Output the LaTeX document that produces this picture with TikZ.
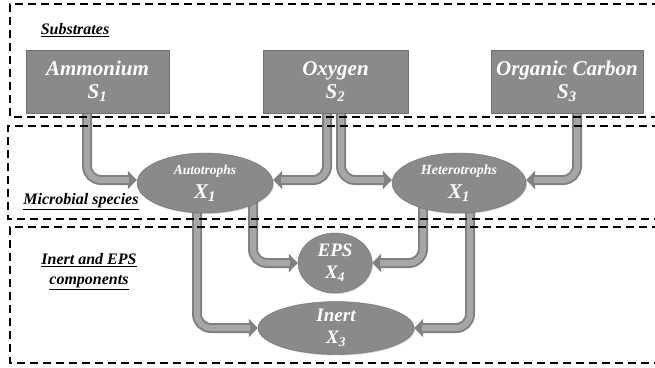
\documentclass[tikz,border=0pt]{standalone}
\usepackage{fontspec}
\setmainfont{Liberation Serif}
\usetikzlibrary{arrows.meta,shapes.geometric,shadows,backgrounds}
\definecolor{boxgray}{HTML}{8A8A8A}
\definecolor{edgegray}{HTML}{707070}
\definecolor{flowgray}{HTML}{808080}
\definecolor{flowlight}{HTML}{A6A6A6}

\begin{document}
\begin{tikzpicture}[x=1pt,y=-1pt,
    substrate/.style={rectangle,draw=edgegray,fill=boxgray,minimum width=143pt,minimum height=63pt,
      inner sep=0pt,align=center,text=white,font=\fontsize{21}{23}\selectfont\bfseries\itshape,
      drop shadow={opacity=0.35,shadow xshift=1pt,shadow yshift=-1pt}},
    species/.style={ellipse,draw=edgegray,fill=boxgray,inner sep=0pt,align=center,text=white,
      font=\fontsize{21}{24}\selectfont\bfseries\itshape,
      drop shadow={opacity=0.35,shadow xshift=1pt,shadow yshift=-1pt}},
    flow/.style={line width=10pt,draw=flowgray,rounded corners=14pt,-{Triangle[width=18pt,length=9pt]},
      postaction={draw=flowlight,line width=6pt,arrows=-,shorten >=8pt}},
    region/.style={line width=1.4pt,dash pattern=on 8pt off 5pt},
    heading/.style={font=\fontsize{16}{20}\selectfont\bfseries\itshape,align=center}]
  \clip (0,0) rectangle (655,367);
  \draw[region] (660,4) -| (10,117) -- (660,117);
  \draw[region] (660,126) -| (8,219) -- (660,219);
  \draw[region] (660,227) -| (10,363) -- (660,363);

  \node[heading] (subs) at (75,30) {\underline{Substrates}};
  \node[heading] (micro) at (81,202) {\underline{Microbial species}};
  \node[heading] (inrt) at (89,272) {\underline{Inert and EPS}\\\underline{components}};

  \node[substrate] (amm) at (97.5,81.5) {Ammonium\\S\textsubscript{1}};
  \node[substrate,minimum width=145pt] (oxy) at (335.5,81.5) {Oxygen\\S\textsubscript{2}};
  \node[substrate,minimum width=152pt] (orgc) at (567,81.5) {Organic Carbon\\S\textsubscript{3}};

  \node[species,minimum width=136pt,minimum height=60pt] (auto) at (205,183)
    {{\fontsize{13.5}{15}\selectfont Autotrophs}\\X\textsubscript{1}};
  \node[species,minimum width=134pt,minimum height=60pt] (het) at (459,183)
    {{\fontsize{14}{15}\selectfont Heterotrophs}\\X\textsubscript{1}};
  \node[species,minimum width=74pt,minimum height=60pt,font=\fontsize{19}{22}\selectfont\bfseries\itshape] (eps) at (335,263)
    {EPS\\X\textsubscript{4}};
  \node[species,minimum width=156pt,minimum height=52pt,font=\fontsize{19}{22}\selectfont\bfseries\itshape] (inert) at (336,328)
    {Inert\\X\textsubscript{3}};

  \begin{scope}[on background layer]
    \draw[flow] ([xshift=-10.5pt]amm.center) |- ([yshift=3pt]auto.west);
    \draw[flow] ([xshift=-8.5pt]oxy.center) |- ([yshift=3pt]auto.east);
    \draw[flow] ([xshift=5.5pt]oxy.center) |- ([yshift=3pt]het.west);
    \draw[flow] ([xshift=10pt]orgc.center) |- ([yshift=3pt]het.east);
    \draw[flow] ([xshift=-8pt]auto.center) |- (inert.west);
    \draw[flow] ([xshift=48pt]auto.center) |- (eps.west);
    \draw[flow] ([xshift=-36pt]het.center) |- (eps.east);
    \draw[flow] ([xshift=11pt]het.center) |- (inert.east);
  \end{scope}
\end{tikzpicture}
\end{document}
